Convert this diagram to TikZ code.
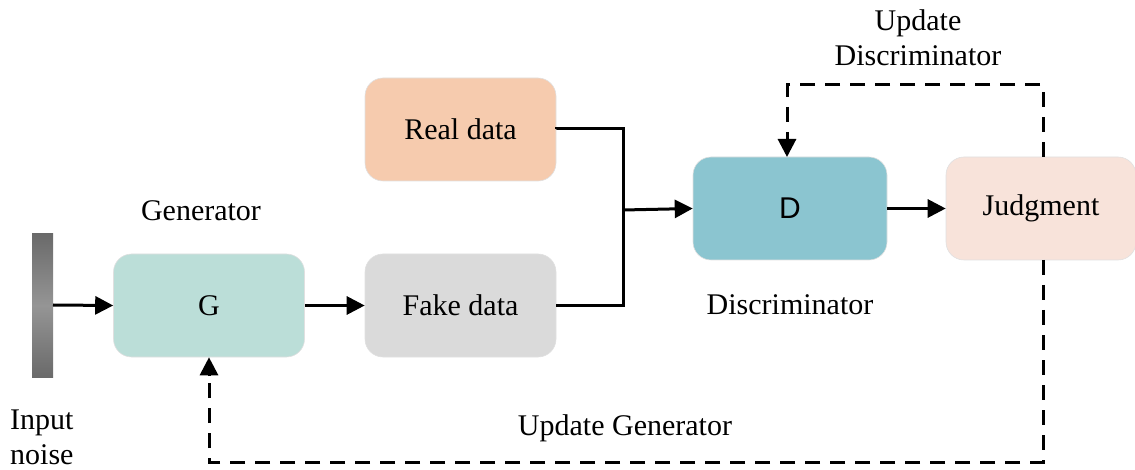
\documentclass[tikz,border=0pt]{standalone}
\usepackage{fontspec}
\setmainfont{Liberation Serif}
\newfontfamily\arialfont{Liberation Sans}
\usetikzlibrary{arrows.meta}
\definecolor{gcol}{HTML}{BBDED8}
\definecolor{fcol}{HTML}{DADADA}
\definecolor{rcol}{HTML}{F6CBAE}
\definecolor{dcol}{HTML}{8BC5D0}
\definecolor{jcol}{HTML}{F8E3DA}
\definecolor{bordcol}{HTML}{E0E0E0}
\definecolor{bardark}{HTML}{6A6A6A}
\definecolor{barlight}{HTML}{959595}
\tikzset{
  box/.style={rounded corners=18pt, minimum width=191pt, minimum height=103pt, inner sep=0pt, draw=bordcol, line width=0.6pt, font=\fontsize{30}{34}\selectfont},
  conn/.style={line width=3pt, -{Triangle[length=18pt,width=18pt]}},
  plain/.style={line width=3pt},
  dconn/.style={line width=3pt, dash pattern=on 15pt off 10pt},
  lbl/.style={font=\fontsize{30}{35}\selectfont, inner sep=0pt}
}
\begin{document}
\begin{tikzpicture}[x=1pt,y=-1pt]
\useasboundingbox (0,0) rectangle (1135,470);
% noise bar
\shade[top color=bardark, bottom color=bardark, middle color=barlight] (32,234) rectangle (53,377);
\coordinate (noise) at (53,305);
\node[box, fill=gcol] (G) at (209,305.5) {G};
\node[box, fill=fcol] (F) at (460.5,305.5) {Fake data};
\node[box, fill=rcol] (R) at (460.5,129.5) {Real data};
\node[box, fill=dcol, minimum width=194pt] (D) at (790,208.5) {\arialfont D};
\node[box, fill=jcol, minimum width=190pt] (J) at (1041,208.5) {Judgment};
\coordinate (jn) at (623,210);
\draw[conn] (noise) -- (G.west);
\draw[conn] (G.east) -- (F.west);
\draw[plain] (R.east) -- ++(0,-1) -| (jn) |- (F.east);
\draw[conn] (jn) -- (D.west);
\draw[conn] (D.east) -- (J.west);
\coordinate (ju) at (1043,157);
\coordinate (jd) at (1043,260);
\draw[dconn] (ju) -- (1043,85) -- (787,85) -- (787,145);
\draw[conn] (787,138) -- (787,157);
\draw[dconn] (jd) -- (1043,462) -- (209,462) -- (209,376);
\draw[conn] (209,376) -- (G.south);
\node[lbl] (gl) at (201,211) {Generator};
\node[lbl] (dl) at (790,305) {Discriminator};
\node[lbl, align=left, anchor=west] (nl) at (10,437) {Input\\noise};
\node[lbl] (ug) at (625,428) {Update Generator};
\node[lbl, align=center] (ud) at (918,38) {Update\\Discriminator};
\end{tikzpicture}
\end{document}
